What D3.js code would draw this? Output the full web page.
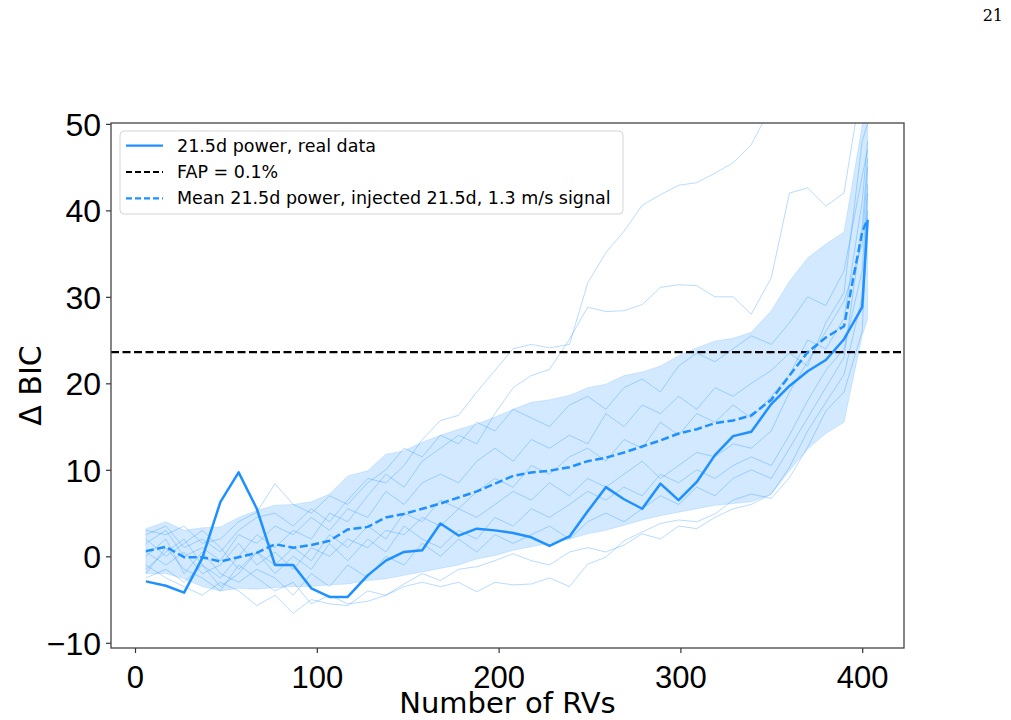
<!DOCTYPE html>
<html>
<head>
<meta charset="utf-8">
<script src="https://cdn.jsdelivr.net/npm/d3@7"></script>
<style>
  body { margin: 0; background: #fff; }
  svg { display: block; font-family: "DejaVu Sans", sans-serif; }
</style>
</head>
<body>
<script>
// number of RVs used at each step
const nRVs = [6, 17, 27, 37, 47, 57, 67, 77, 87, 97, 107, 117, 128, 138, 148, 158, 168, 178, 188, 198,
  208, 218, 228, 239, 249, 259, 269, 279, 289, 299, 309, 319, 329, 339, 350, 360, 370, 380, 390, 400, 403];

// 21.5d power, real data
const realPower = [-2.9, -3.4, -4.2, -0.2, 6.3, 9.7, 5.5, -1.0, -1.0, -3.7, -4.7, -4.7, -2.2, -0.5, 0.5, 0.7,
  3.8, 2.4, 3.2, 3.0, 2.7, 2.2, 1.2, 2.3, 5.2, 8.0, 6.6, 5.5, 8.4, 6.5, 8.6, 11.7, 13.9, 14.4, 17.6, 19.7,
  21.4, 22.7, 25.1, 28.8, 38.9];

// mean power of injected 21.5d, 1.3 m/s signal
const meanInjected = [0.6, 1.1, -0.1, -0.1, -0.6, -0.1, 0.4, 1.4, 1.0, 1.3, 1.8, 3.1, 3.4, 4.5, 4.9, 5.5,
  6.1, 6.8, 7.5, 8.4, 9.3, 9.7, 9.9, 10.3, 11.0, 11.4, 12.0, 12.7, 13.4, 14.2, 14.7, 15.4, 15.7, 16.3, 18.1,
  20.9, 23.6, 25.3, 26.6, 37.5, 39.0];

// band around the mean
const bandUpper = [3.2, 4.0, 3.0, 3.3, 3.4, 4.5, 5.3, 5.9, 6.0, 6.3, 7.2, 9.3, 9.9, 11.8, 12.2, 13.2, 14.0,
  14.7, 15.3, 16.1, 17.0, 17.8, 18.1, 18.6, 19.5, 19.9, 20.9, 21.3, 22.0, 23.2, 24.1, 24.9, 25.2, 25.9, 28.4,
  31.8, 34.5, 36.1, 37.5, 49.8, 53.0];
const bandLower = [-2.0, -2.0, -2.6, -3.5, -4.0, -3.7, -3.8, -3.6, -3.5, -3.5, -3.3, -3.2, -2.8, -2.6, -2.2,
  -1.8, -1.4, -1.0, -0.3, 0.1, 0.7, 1.1, 1.5, 2.0, 2.6, 3.0, 3.6, 4.2, 4.7, 5.1, 5.5, 5.9, 6.1, 6.3, 7.2, 9.9,
  12.4, 14.2, 15.5, 25.5, 27.5];

// individual injections
const injection1 = [2.5, 3.5, 1.0, 2.0, 0.5, 3.0, 4.5, 5.0, 3.5, 5.5, 4.0, 6.5, 9.0, 8.5, 10.5, 13.5, 15.7,
  16.3, 19.0, 21.5, 24.0, 24.5, 24.1, 24.5, 31.6, 35.1, 37.6, 40.6, 41.8, 42.9, 43.2, 44.3, 45.5, 47.6, 52.0,
  55.0, 57.0, 58.0, 60.0, 62.0, 64.0];
const injection2 = [-1.5, 0.5, 2.0, -1.0, -2.5, 0.0, 2.5, 1.0, 3.0, 2.0, 5.0, 4.0, 7.0, 9.5, 8.0, 11.0, 12.5,
  14.0, 13.0, 16.5, 19.5, 20.9, 21.6, 25.1, 28.8, 28.3, 28.4, 29.1, 31.1, 31.4, 31.3, 30.0, 30.0, 28.0, 32.2,
  42.0, 42.6, 40.5, 42.0, 55.0, 58.0];
const injection3 = [3.0, 2.5, 3.5, 1.5, 2.0, 4.0, 5.1, 8.4, 6.0, 5.0, 7.0, 6.0, 8.5, 10.0, 12.5, 11.5, 14.0,
  13.0, 15.5, 14.5, 17.0, 16.0, 15.0, 17.5, 18.5, 17.0, 19.5, 20.5, 19.0, 22.0, 23.5, 22.5, 24.0, 25.5, 24.5,
  27.0, 30.0, 29.0, 33.0, 44.0, 47.0];
const injection4 = [-1.0, -2.5, -3.5, -4.5, -3.0, -4.0, -5.7, -4.5, -6.6, -5.0, -5.5, -5.7, -4.0, -4.5, -3.5,
  -3.0, -3.5, -3.0, -4.1, -3.0, -3.3, -3.2, -2.5, -3.5, -0.9, -0.1, 1.8, 2.8, 3.8, 4.2, 4.0, 4.9, 6.5, 7.2,
  6.7, 9.1, 12.6, 16.8, 19.0, 26.0, 40.0];
const injection5 = [-2.0, 1.0, -1.5, -2.5, -4.0, -1.0, -2.5, -4.0, -3.0, -5.5, -4.5, -5.5, -5.2, -4.5, -3.2,
  -2.0, -2.8, -1.5, -1.2, -0.5, 0.3, -0.5, -1.0, 0.5, 1.0, 0.5, 1.3, 2.6, 2.0, 3.5, 3.2, 4.5, 5.5, 6.0, 7.2,
  10.3, 14.5, 17.8, 21.0, 30.0, 42.0];
const injection6 = [0.5, -1.0, 0.5, -2.0, -1.0, 1.5, -1.0, 0.5, -1.5, 1.0, 0.0, 2.0, 1.0, 3.0, 2.5, 4.5, 3.5,
  5.5, 4.5, 6.0, 7.5, 6.5, 8.5, 7.0, 9.0, 8.0, 9.5, 11.0, 9.0, 10.5, 12.0, 11.5, 13.0, 12.5, 14.5, 19.0, 22.5,
  26.0, 29.5, 36.0, 45.0];
const injection7 = [1.5, 3.0, 0.0, 1.0, -0.5, 2.5, 1.5, 3.5, 2.5, 4.5, 3.0, 5.5, 4.5, 7.5, 6.0, 8.5, 9.5, 8.5,
  11.0, 12.5, 11.0, 13.5, 12.5, 14.0, 13.0, 16.5, 15.0, 17.5, 16.5, 18.5, 17.0, 19.5, 18.5, 20.0, 21.5, 23.5,
  22.0, 27.0, 30.5, 48.0, 50.0];
const injection8 = [-2.5, -1.5, -3.0, -1.0, -3.5, -2.0, 0.5, -1.0, 1.0, -0.5, 2.5, 1.0, 3.5, 2.0, 5.0, 4.0,
  6.5, 5.5, 7.5, 9.0, 8.0, 10.5, 9.5, 11.5, 12.5, 11.0, 13.5, 12.5, 15.5, 14.0, 16.5, 15.5, 17.5, 16.0, 18.5,
  21.0, 25.0, 24.0, 27.5, 41.0, 48.0];
const injection9 = [2.0, 0.0, 1.5, 3.0, 1.0, -1.5, 0.5, -2.0, 0.0, -1.5, 1.5, -0.5, 2.0, 0.5, 3.5, 2.0, 1.0,
  3.0, 2.0, 4.5, 3.5, 5.5, 4.5, 6.0, 7.5, 6.5, 8.0, 7.0, 9.5, 8.5, 10.0, 9.0, 10.5, 11.5, 10.5, 14.0, 18.0,
  21.5, 24.0, 33.0, 43.0];
const injection10 = [0.0, 2.0, -2.0, 0.5, -2.0, -3.0, -1.5, -2.5, -4.5, -2.0, -3.5, -1.0, -2.5, 0.0, -1.0,
  1.5, 0.0, 2.0, 0.5, 2.5, 1.5, 2.5, 3.5, 2.0, 4.0, 5.0, 4.0, 5.5, 7.0, 6.0, 8.0, 7.0, 9.0, 10.0, 9.0, 12.5,
  16.0, 19.5, 23.0, 38.0, 46.0];
const injections = [injection1, injection2, injection3, injection4, injection5,
  injection6, injection7, injection8, injection9, injection10];

const fapLevel = 23.6;
const xTicks = [0, 100, 200, 300, 400];
const yTicks = [-10, 0, 10, 20, 30, 40, 50];
const legendLabels = ["21.5d power, real data", "FAP = 0.1%", "Mean 21.5d power, injected 21.5d, 1.3 m/s signal"];
const pageNumber = "21";

const width = 1011, height = 720;
const blue = "#1E90FF";
const marginLeft = 111, marginRight = 107, marginTop = 123, marginBottom = 72;

const svg = d3.select("body").append("svg")
    .attr("width", width)
    .attr("height", height)
    .attr("viewBox", [0, 0, width, height]);

// scales
const x = d3.scaleLinear([-13.2, 423], [marginLeft, width - marginRight]);
const y = d3.scaleLinear([-10.6, 50.1], [height - marginBottom, marginTop]);

svg.append("defs").append("clipPath")
    .attr("id", "plotClip")
  .append("rect")
    .attr("x", marginLeft)
    .attr("y", marginTop)
    .attr("width", width - marginLeft - marginRight)
    .attr("height", height - marginTop - marginBottom);

const plot = svg.append("g").attr("clip-path", "url(#plotClip)");

const line = d3.line().x((d, i) => x(nRVs[i])).y(d => y(d));

// thin lines, one per injection
plot.append("g")
    .attr("fill", "none")
    .attr("stroke", blue)
    .attr("stroke-opacity", 0.4)
    .attr("stroke-width", 0.8)
  .selectAll("path")
  .data(injections)
  .join("path")
    .attr("d", line);

// band around the mean
const area = d3.area()
    .x((d, i) => x(nRVs[i]))
    .y0((d, i) => y(bandLower[i]))
    .y1(d => y(d));
plot.append("path")
    .attr("d", area(bandUpper))
    .attr("fill", blue)
    .attr("fill-opacity", 0.2)
    .attr("stroke", blue)
    .attr("stroke-opacity", 0.15);

// real data
plot.append("path")
    .attr("d", line(realPower))
    .attr("fill", "none")
    .attr("stroke", blue)
    .attr("stroke-width", 2.5)
    .attr("stroke-linejoin", "round");

// false alarm level
plot.append("line")
    .attr("x1", marginLeft)
    .attr("x2", width - marginRight)
    .attr("y1", y(fapLevel))
    .attr("y2", y(fapLevel))
    .attr("stroke", "black")
    .attr("stroke-width", 2.2)
    .attr("stroke-dasharray", "8,3.5");

// mean injected
plot.append("path")
    .attr("d", line(meanInjected))
    .attr("fill", "none")
    .attr("stroke", blue)
    .attr("stroke-width", 2.5)
    .attr("stroke-dasharray", "8,3.5");

// Add the x-axis.
svg.append("g")
    .attr("transform", `translate(0,${height - marginBottom})`)
    .call(d3.axisBottom(x).tickValues(xTicks).tickSize(5).tickFormat(d3.format("d")))
    .call(g => g.select(".domain").remove())
    .call(g => g.selectAll(".tick line").attr("stroke", "#333").attr("stroke-width", 1.2))
    .call(g => g.selectAll(".tick text")
        .attr("y", 40).attr("dy", null)
        .attr("fill", "black")
        .style("font-size", "31px"));

// Add the y-axis.
svg.append("g")
    .attr("transform", `translate(${marginLeft},0)`)
    .call(d3.axisLeft(y).tickValues(yTicks).tickSize(5))
    .call(g => g.select(".domain").remove())
    .call(g => g.selectAll(".tick line").attr("stroke", "#333").attr("stroke-width", 1.2))
    .call(g => g.selectAll(".tick text")
        .attr("x", -10).attr("dy", "0.36em")
        .attr("fill", "black")
        .style("font-size", "32px"));

// frame
svg.append("rect")
    .attr("x", marginLeft)
    .attr("y", marginTop)
    .attr("width", width - marginLeft - marginRight)
    .attr("height", height - marginTop - marginBottom)
    .attr("fill", "none")
    .attr("stroke", "#444")
    .attr("stroke-width", 1.3);

// axis labels
svg.append("text")
    .attr("x", (marginLeft + width - marginRight) / 2)
    .attr("y", 713)
    .attr("text-anchor", "middle")
    .style("font-size", "29px")
    .text("Number of RVs");
svg.append("text")
    .attr("transform", `translate(41,${(marginTop + height - marginBottom) / 2}) rotate(-90)`)
    .attr("text-anchor", "middle")
    .style("font-size", "30px")
    .text("Δ BIC");

// legend
const legend = svg.append("g").attr("transform", "translate(120,131)");
legend.append("rect")
    .attr("width", 503)
    .attr("height", 83)
    .attr("rx", 4)
    .attr("fill", "white")
    .attr("fill-opacity", 0.8)
    .attr("stroke", "#d5d5d5");
const legendStyles = [
    {color: blue, dash: null},
    {color: "black", dash: "6,3"},
    {color: blue, dash: "6,3"}
];
const rows = legend.selectAll("g.row")
  .data(legendLabels)
  .join("g")
    .attr("class", "row")
    .attr("transform", (d, i) => `translate(0,${14.7 + i * 26.3})`);
rows.append("line")
    .attr("x1", 6).attr("x2", 43)
    .attr("stroke", (d, i) => legendStyles[i].color)
    .attr("stroke-width", 2.2)
    .attr("stroke-dasharray", (d, i) => legendStyles[i].dash);
rows.append("text")
    .attr("x", 57)
    .attr("dy", "0.35em")
    .style("font-size", "17.5px")
    .text(d => d);

// page number
svg.append("text")
    .attr("x", 1003)
    .attr("y", 21)
    .attr("text-anchor", "end")
    .style("font-family", "'DejaVu Serif', serif")
    .style("font-size", "16px")
    .text(pageNumber);
</script>
</body>
</html>
